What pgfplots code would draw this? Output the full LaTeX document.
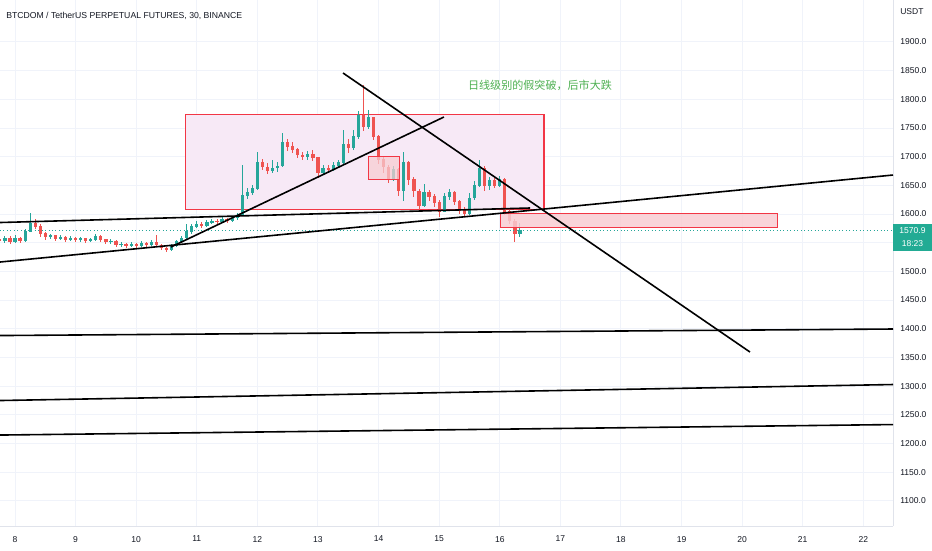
\documentclass[border=0pt]{standalone}
\usepackage{pgfplots}
\pgfplotsset{compat=1.18}
\usepackage{pgfplotstable}
\usepackage{fontspec}
\setmainfont{Liberation Sans}
\newfontfamily\cjk{Noto Sans CJK SC}
\definecolor{upc}{RGB}{38,166,154}
\definecolor{dnc}{RGB}{239,83,80}
\definecolor{gridc}{RGB}{240,243,250}
\definecolor{axc}{RGB}{224,227,235}
\definecolor{boxedge}{RGB}{242,54,69}
\definecolor{bigfill}{RGB}{247,233,246}
\definecolor{smallfill}{RGB}{248,205,210}
\definecolor{txtc}{RGB}{19,23,34}
\definecolor{annc}{RGB}{76,175,80}
\definecolor{tagc}{RGB}{34,171,148}

\pgfplotstableread{
d o h l c
7.750 1556 1560 1549 1553
7.833 1553 1562 1550 1558
7.917 1558 1561 1548 1552
8.000 1552 1563 1549 1557
8.083 1557 1560 1550 1554
8.167 1554 1574 1552 1570
8.250 1570 1601 1568 1584
8.333 1584 1592 1574 1578
8.417 1578 1582 1560 1566
8.500 1566 1568 1555 1560
8.583 1560 1566 1556 1562
8.667 1562 1564 1553 1557
8.750 1557 1563 1554 1560
8.833 1560 1562 1552 1556
8.917 1556 1561 1553 1558
9.000 1558 1560 1551 1555
9.083 1555 1560 1552 1557
9.167 1557 1559 1550 1554
9.250 1554 1559 1551 1556
9.333 1556 1565 1553 1561
9.417 1561 1563 1551 1555
9.500 1555 1557 1548 1552
9.583 1552 1556 1548 1553
9.667 1553 1555 1543 1546
9.750 1546 1551 1543 1548
9.833 1548 1550 1541 1545
9.917 1545 1552 1542 1547
10.000 1547 1549 1540 1544
10.083 1544 1553 1542 1549
10.167 1549 1551 1543 1547
10.250 1547 1554 1544 1550
10.333 1550 1563 1543 1546
10.417 1546 1548 1538 1541
10.500 1541 1543 1534 1538
10.583 1538 1547 1535 1545
10.667 1545 1555 1543 1552
10.750 1552 1562 1549 1558
10.833 1558 1582 1556 1570
10.917 1570 1583 1566 1578
11.000 1578 1587 1575 1582
11.083 1582 1586 1576 1580
11.167 1580 1589 1578 1585
11.250 1585 1592 1582 1588
11.333 1588 1591 1582 1586
11.417 1586 1594 1584 1590
11.500 1590 1593 1585 1588
11.583 1588 1596 1586 1593
11.667 1593 1602 1590 1598
11.750 1598 1686 1596 1632
11.833 1632 1645 1626 1638
11.917 1638 1650 1633 1645
12.000 1645 1708 1642 1690
12.083 1690 1696 1676 1682
12.167 1682 1689 1670 1676
12.250 1676 1694 1671 1680
12.333 1680 1690 1674 1684
12.417 1684 1741 1682 1725
12.500 1725 1730 1710 1718
12.583 1718 1726 1706 1712
12.667 1712 1715 1697 1703
12.750 1703 1708 1694 1700
12.833 1700 1710 1695 1704
12.917 1704 1712 1692 1698
13.000 1698 1700 1663 1672
13.083 1672 1685 1670 1680
13.167 1680 1686 1673 1678
13.250 1678 1690 1675 1685
13.333 1685 1694 1680 1690
13.417 1690 1747 1688 1722
13.500 1722 1730 1706 1716
13.583 1716 1747 1712 1735
13.667 1735 1780 1730 1772
13.750 1772 1825 1745 1752
13.833 1752 1781 1748 1768
13.917 1768 1770 1729 1735
14.000 1735 1738 1688 1695
14.083 1695 1700 1672 1682
14.167 1682 1686 1654 1660
14.250 1660 1684 1658 1678
14.333 1678 1680 1632 1640
14.417 1640 1708 1622 1690
14.500 1690 1692 1650 1660
14.583 1660 1664 1630 1640
14.667 1640 1643 1607 1615
14.750 1615 1652 1612 1638
14.833 1638 1642 1622 1630
14.917 1630 1635 1612 1620
15.000 1620 1624 1595 1605
15.083 1605 1636 1603 1630
15.167 1630 1643 1625 1638
15.250 1638 1640 1616 1622
15.333 1622 1625 1600 1606
15.417 1606 1612 1595 1600
15.500 1600 1637 1598 1628
15.583 1628 1658 1625 1650
15.667 1650 1694 1648 1680
15.750 1680 1683 1640 1650
15.833 1650 1665 1642 1658
15.917 1658 1663 1645 1650
16.000 1650 1666 1647 1660
16.083 1660 1662 1598 1605
16.167 1605 1608 1582 1588
16.250 1588 1592 1551 1565
16.333 1565 1585 1560 1570.9
}\candles

\begin{document}
\begin{tikzpicture}
\useasboundingbox (0pt,0pt) rectangle (699pt,-412.5pt);
\begin{axis}[at={(0pt,0pt)}, anchor=north west,
 width=669.75pt, height=394.5pt, scale only axis,
 xmin=7.752, xmax=22.49, ymin=1056, ymax=1973.2,
 axis x line*=bottom, axis y line*=right,
 axis line style={draw=axc, line width=0.75pt, -},
 xtick={8,...,22}, ytick={1100,1150,...,1500,1600,1650,...,1900},
 extra y ticks={1550}, extra y tick labels={},
 extra y tick style={grid=major},
 major tick length=0pt,
 grid=major, major grid style={draw=gridc, line width=0.75pt},
 ticklabel style={font=\fontsize{6.4}{7}\selectfont, text=txtc},
 /pgf/number format/assume math mode=true,
 yticklabel style={/pgf/number format/fixed, /pgf/number format/fixed zerofill, /pgf/number format/precision=1, /pgf/number format/1000 sep={}, xshift=2pt},
 xticklabel style={yshift=-4pt},
]
% big box
\addplot[draw=boxedge, line width=0.8pt, fill=bigfill] coordinates {(10.82,1608.2) (16.73,1608.2) (16.73,1773.9) (10.82,1773.9)} -- cycle;
% wicks and bodies
\addplot[draw=none, forget plot, x filter/.expression={\thisrow{c}>=\thisrow{o} ? x : nan}, unbounded coords=discard,
  error bars/.cd, y dir=both, y explicit, error mark=none, error bar style={draw=upc, line width=0.7pt}]
  table[x=d, y expr={0.5*(\thisrow{h}+\thisrow{l})}, y error expr={0.5*(\thisrow{h}-\thisrow{l})}] {\candles};
\addplot[draw=none, forget plot, x filter/.expression={\thisrow{c}<\thisrow{o} ? x : nan}, unbounded coords=discard,
  error bars/.cd, y dir=both, y explicit, error mark=none, error bar style={draw=dnc, line width=0.7pt}]
  table[x=d, y expr={0.5*(\thisrow{h}+\thisrow{l})}, y error expr={0.5*(\thisrow{h}-\thisrow{l})}] {\candles};
\addplot[draw=none, forget plot, x filter/.expression={\thisrow{c}>=\thisrow{o} ? x : nan}, unbounded coords=discard,
  error bars/.cd, y dir=both, y explicit, error mark=none, error bar style={draw=upc, line width=2.4pt}]
  table[x=d, y expr={0.5*(\thisrow{o}+\thisrow{c})}, y error expr={0.5*abs(\thisrow{c}-\thisrow{o})+0.6}] {\candles};
\addplot[draw=none, forget plot, x filter/.expression={\thisrow{c}<\thisrow{o} ? x : nan}, unbounded coords=discard,
  error bars/.cd, y dir=both, y explicit, error mark=none, error bar style={draw=dnc, line width=2.4pt}]
  table[x=d, y expr={0.5*(\thisrow{o}+\thisrow{c})}, y error expr={0.5*abs(\thisrow{c}-\thisrow{o})+0.6}] {\candles};
% small boxes
\addplot[draw=boxedge, line width=0.8pt, fill=smallfill, fill opacity=0.75] coordinates {(13.84,1659.5) (14.34,1659.5) (14.34,1699.6) (13.84,1699.6)} -- cycle;
\addplot[draw=boxedge, line width=0.8pt, fill=smallfill, fill opacity=0.85] coordinates {(16.015,1576.8) (20.59,1576.8) (20.59,1601.3) (16.015,1601.3)} -- cycle;
% last price line
\addplot[draw=upc, dotted, line width=0.6pt] coordinates {(7.752,1570.9) (22.49,1570.9)};
% trend lines
\addplot[black, line width=1.2pt] coordinates {(7.752,1585.2) (16.50,1610.5)};
\addplot[black, line width=1.2pt] coordinates {(7.752,1516.3) (22.49,1668.0)};
\addplot[black, line width=1.2pt] coordinates {(10.574,1542.5) (15.079,1769.2)};
\addplot[black, line width=1.2pt] coordinates {(13.413,1845.9) (20.129,1359.4)};
\addplot[black, line width=1.2pt] coordinates {(7.752,1388.1) (22.49,1399.5)};
\addplot[black, line width=1.2pt] coordinates {(7.752,1274.8) (22.49,1302.7)};
\addplot[black, line width=1.2pt] coordinates {(7.752,1214.6) (22.49,1232.9)};
\end{axis}
\begin{scope}[x=0.75pt,y=-0.75pt]
\node[anchor=west, inner sep=0pt, text=txtc, font=\fontsize{6.5}{7}\selectfont] at (6,16) {BTCDOM / TetherUS PERPETUAL FUTURES, 30, BINANCE};
\node[anchor=west, inner sep=0pt, text=txtc, font=\fontsize{6.4}{7}\selectfont] at (900,12) {USDT};
\fill[tagc] (893,224) rectangle (932,251);
\node[text=white, inner sep=0pt, font=\fontsize{6.4}{7}\selectfont] at (912.5,231) {1570.9};
\node[text=white, inner sep=0pt, font=\fontsize{6.4}{7}\selectfont] at (912.5,244) {18:23};
\node[text=annc, inner sep=0pt, font=\cjk\fontsize{8.3}{9}\selectfont] at (540,85) {日线级别的假突破，后市大跌};
\end{scope}
\end{tikzpicture}
\end{document}
